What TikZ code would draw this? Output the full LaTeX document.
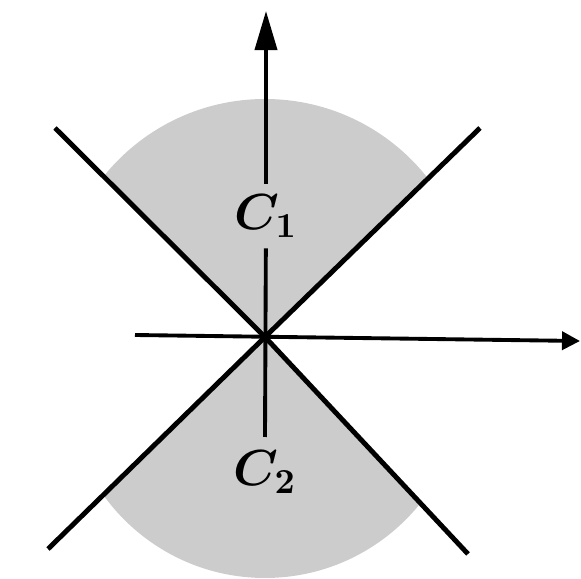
\documentclass[tikz,border=0pt]{standalone}
\usetikzlibrary{arrows.meta, positioning, calc}

\begin{document}
\begin{tikzpicture}[
    x=0.01cm, y=-0.01cm,
    >=Stealth,
    cone/.style = {black, line width=1.4pt},
    axis/.style = {black, line width=1.1pt},
    axis_up/.style = {axis, -{Triangle[length=3.9mm,width=2.2mm]}},
    axis_right/.style = {axis, -{Triangle[length=1.8mm,width=1.8mm]}},
    shade_reg/.style = {fill=black!20},
    lbl/.style = {font=\Large\boldmath, inner sep=3pt},
]

% Marco
\useasboundingbox (0,0) rectangle (581,579);

% Origen y extremos de las rectas
\coordinate (O) at (265,337);
\coordinate (nw) at (55,128);
\coordinate (se) at (468,554);
\coordinate (ne) at (480,128);
\coordinate (sw) at (48,549);
\coordinate (top) at (266,11);
\coordinate (vbot) at (265,437);
\coordinate (xl) at (135,335);
\coordinate (xr) at (580,341);

% Region sombreada superior
\begin{scope}
    \clip (O) -- ($(O)!2!(nw)$) -- ($(O)!2!(ne)$) -- cycle;
    \fill[shade_reg] (265,306) circle[radius=207];
\end{scope}

% Region sombreada inferior
\begin{scope}
    \clip (O) -- ($(O)!2!(sw)$) -- ($(O)!2!(se)$) -- cycle;
    \fill[shade_reg] (265,379) circle[radius=199];
\end{scope}

% Etiquetas
\node[lbl] (C1) at (266,216) {$C_1$};
\node[lbl] (C2) at (265,472) {$C_2$};

% Rectas del cono
\draw[cone] (nw) -- (O) -- (se);
\draw[cone] (ne) -- (O) -- (sw);

% Ejes
\draw[axis_right] (xl) -- (xr);
\draw[axis] (vbot) -- (C1);
\draw[axis_up] (C1) -- (top);

\end{tikzpicture}
\end{document}
